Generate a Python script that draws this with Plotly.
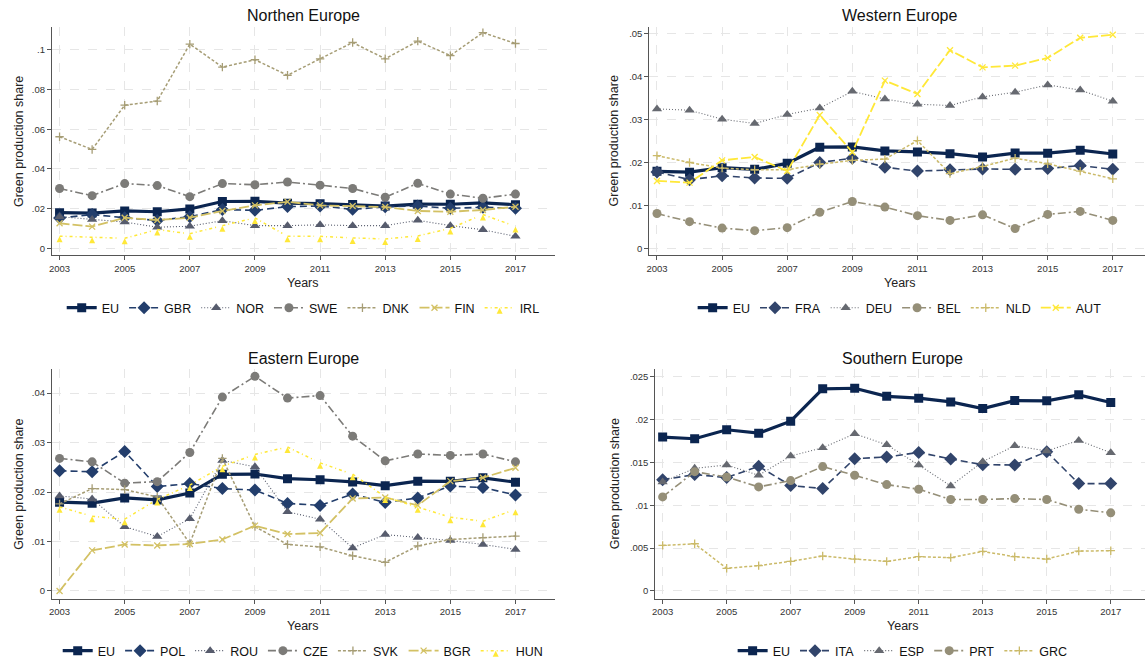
import plotly.graph_objects as go

years = list(range(2003, 2018))
x_ticks = [2003, 2005, 2007, 2009, 2011, 2013, 2015, 2017]

eu = [0.01795, 0.01775, 0.0188, 0.0184, 0.0198, 0.02357, 0.02364, 0.0227, 0.02248, 0.02205, 0.02128, 0.0222, 0.02217, 0.02287, 0.02198]

# Northern Europe
gbr = [0.0152, 0.0170, 0.0154, 0.0140, 0.0159, 0.0195, 0.0191, 0.0210, 0.0213, 0.0196, 0.0209, 0.0213, 0.0201, 0.0207, 0.0201]
nor = [0.0159, 0.0145, 0.0132, 0.0106, 0.0111, 0.0139, 0.0114, 0.0114, 0.0118, 0.0114, 0.0114, 0.0141, 0.0114, 0.0093, 0.0060]
swe = [0.0301, 0.0265, 0.0326, 0.0316, 0.0260, 0.0326, 0.0320, 0.0334, 0.0318, 0.0301, 0.0257, 0.0327, 0.0273, 0.0252, 0.0273]
dnk = [0.0562, 0.0498, 0.0721, 0.0742, 0.1029, 0.0913, 0.0950, 0.0872, 0.0955, 0.1037, 0.0955, 0.1044, 0.0971, 0.1087, 0.1032]
fin = [0.0126, 0.0109, 0.0154, 0.0142, 0.0154, 0.0188, 0.0216, 0.0234, 0.0216, 0.0213, 0.0208, 0.0188, 0.0184, 0.0193, 0.0209]
irl = [0.0061, 0.0056, 0.0050, 0.0094, 0.0073, 0.0114, 0.0153, 0.0060, 0.0060, 0.0052, 0.0047, 0.0062, 0.0100, 0.0170, 0.0110]

# Western Europe
fra = [0.0178, 0.0160, 0.0169, 0.0164, 0.0163, 0.0200, 0.0210, 0.0189, 0.0180, 0.0183, 0.0185, 0.0184, 0.0186, 0.0193, 0.0184]
deu = [0.0325, 0.0322, 0.0301, 0.0291, 0.0312, 0.0327, 0.0366, 0.0348, 0.0336, 0.0333, 0.0353, 0.0364, 0.0381, 0.0369, 0.0343]
bel = [0.0081, 0.0062, 0.0047, 0.0041, 0.0048, 0.0084, 0.0109, 0.0096, 0.0076, 0.0065, 0.0078, 0.0046, 0.0079, 0.0086, 0.0065]
nld = [0.0216, 0.0200, 0.0187, 0.0183, 0.0183, 0.0196, 0.0205, 0.0208, 0.0251, 0.0174, 0.0191, 0.0210, 0.0197, 0.0180, 0.0162]
aut = [0.0157, 0.0153, 0.0205, 0.0213, 0.0180, 0.0311, 0.0224, 0.0391, 0.0360, 0.0462, 0.0422, 0.0426, 0.0444, 0.0491, 0.0498]

# Eastern Europe
pol = [0.0243, 0.0241, 0.0282, 0.0211, 0.0217, 0.0207, 0.0204, 0.0177, 0.0173, 0.0196, 0.0179, 0.0188, 0.0212, 0.0209, 0.0194]
rou = [0.0192, 0.0186, 0.0130, 0.0110, 0.0146, 0.0264, 0.0251, 0.0160, 0.0145, 0.0087, 0.0114, 0.0108, 0.0102, 0.0094, 0.0084]
cze = [0.0268, 0.0261, 0.0218, 0.0221, 0.0280, 0.0392, 0.0434, 0.0390, 0.0395, 0.0313, 0.0263, 0.0277, 0.0274, 0.0277, 0.0261]
svk = [0.0176, 0.0207, 0.0205, 0.0190, 0.0096, 0.0268, 0.0130, 0.0094, 0.0089, 0.0071, 0.0058, 0.0091, 0.0104, 0.0108, 0.0111]
bgr = [0.0000, 0.0082, 0.0094, 0.0092, 0.0095, 0.0104, 0.0132, 0.0115, 0.0117, 0.0187, 0.0189, 0.0173, 0.0222, 0.0229, 0.0249]
hun = [0.0170, 0.0151, 0.0145, 0.0185, 0.0214, 0.0252, 0.0276, 0.0291, 0.0259, 0.0236, 0.0190, 0.0170, 0.0149, 0.0141, 0.0165]

# Southern Europe
ita = [0.01298, 0.01357, 0.01322, 0.01453, 0.01229, 0.01194, 0.01543, 0.01562, 0.01616, 0.01539, 0.01473, 0.01469, 0.01624, 0.01252, 0.01252]
esp = [0.01271, 0.0143, 0.01469, 0.01349, 0.01574, 0.0167, 0.01833, 0.01705, 0.01469, 0.01225, 0.01508, 0.01694, 0.01632, 0.01756, 0.01612]
prt = [0.01097, 0.01391, 0.01329, 0.01213, 0.01287, 0.0145, 0.01349, 0.0124, 0.01186, 0.01066, 0.01066, 0.01078, 0.01066, 0.00953, 0.00911]
grc = [0.00531, 0.0055, 0.00264, 0.00295, 0.00345, 0.00407, 0.00372, 0.00345, 0.00399, 0.00388, 0.00461, 0.00399, 0.00372, 0.00465, 0.00469]

north_ticks = [0, 0.02, 0.04, 0.06, 0.08, 0.1]
north_labels = ["0", ".02", ".04", ".06", ".08", ".1"]
west_ticks = [0, 0.01, 0.02, 0.03, 0.04, 0.05]
west_labels = ["0", ".01", ".02", ".03", ".04", ".05"]
east_ticks = [0, 0.01, 0.02, 0.03, 0.04]
east_labels = ["0", ".01", ".02", ".03", ".04"]
south_ticks = [0, 0.005, 0.01, 0.015, 0.02, 0.025]
south_labels = ["0", ".005", ".01", ".015", ".02", ".025"]

C7 = ['#0b2550', '#233E6C', '#575C6D', '#7C7B78', '#A69D75', '#D3C164', '#FFE838']
C6 = ['#0b2550', '#31446B', '#666970', '#958F78', '#CBBA69', '#FFE838']

STYLES = [
    dict(dash='solid', width=3.2, symbol='square', size=9),
    dict(dash='7px,4px', width=1.6, symbol='diamond', size=10),
    dict(dash='1px,2px', width=1.1, symbol='triangle-up', size=9),
    dict(dash='8px,3px,2px,3px', width=1.6, symbol='circle', size=9),
    dict(dash='3px,2px', width=1.5, symbol='cross-thin', size=6),
    dict(dash='10px,3px', width=1.8, symbol='x-thin', size=6),
    dict(dash='3px,3px,1px,3px', width=1.5, symbol='arrow-up', size=6),
]

W, H = 1145, 666
fig = go.Figure()

panels = [
    dict(title="Northen Europe", names=["EU", "GBR", "NOR", "SWE", "DNK", "FIN", "IRL"],
         data=[eu, gbr, nor, swe, dnk, fin, irl], colors=C7,
         xpx=(49, 553), ypx=(27, 256), xr=(2002.764, 2018.2), yr=(-0.00352, 0.11156),
         ticks=north_ticks, labels=north_labels, cx=301, title_y=16, xt_y=284, yt_x=16, leg_y=309),
    dict(title="Western Europe", names=["EU", "FRA", "DEU", "BEL", "NLD", "AUT"],
         data=[eu, fra, deu, bel, nld, aut], colors=C6,
         xpx=(648, 1145), ypx=(27, 256), xr=(2002.764, 2017.99), yr=(-0.00163, 0.05163),
         ticks=west_ticks, labels=west_labels, cx=899, title_y=16, xt_y=284, yt_x=613, leg_y=309),
    dict(title="Eastern Europe", names=["EU", "POL", "ROU", "CZE", "SVK", "BGR", "HUN"],
         data=[eu, pol, rou, cze, svk, bgr, hun], colors=C7,
         xpx=(49, 553), ypx=(370, 600.7), xr=(2002.764, 2018.2), yr=(-0.00161, 0.0449),
         ticks=east_ticks, labels=east_labels, cx=301, title_y=360, xt_y=628, yt_x=16, leg_y=653),
    dict(title="Southern Europe", names=["EU", "ITA", "ESP", "PRT", "GRC"],
         data=[eu, ita, esp, prt, grc], colors=C6,
         xpx=(654, 1145), ypx=(370, 600.7), xr=(2002.77, 2018.07), yr=(-0.00093, 0.0259),
         ticks=south_ticks, labels=south_labels, cx=902, title_y=360, xt_y=628, yt_x=613, leg_y=653),
]

FONT = "Liberation Sans, Arial, sans-serif"
annotations = []
for i, p in enumerate(panels):
    n = i + 1
    xa = 'x' if n == 1 else f'x{n}'
    ya = 'y' if n == 1 else f'y{n}'
    leg = 'legend' if n == 1 else f'legend{n}'
    for j, (name, vals) in enumerate(zip(p['names'], p['data'])):
        st = STYLES[j]
        col = p['colors'][j]
        fig.add_trace(go.Scatter(
            x=years, y=vals, name=name, mode='lines+markers',
            xaxis=xa, yaxis=ya, legend=leg,
            line=dict(color=col, width=st['width'], dash=st['dash']),
            marker=dict(symbol=st['symbol'], size=st['size'], color=col,
                        line=dict(color=col, width=1.3 if 'thin' in st['symbol'] else 0)),
        ))
    xd = [p['xpx'][0] / W, p['xpx'][1] / W]
    yd = [1 - p['ypx'][1] / H, 1 - p['ypx'][0] / H]
    axis_common = dict(showline=True, linecolor='#555555', linewidth=1, ticks='outside',
                       ticklen=4, tickcolor='#555555', tickfont=dict(size=9.5, color='#333333', family=FONT),
                       showgrid=True, gridcolor='#e6e6e6', griddash='dash', gridwidth=1, zeroline=False)
    fig.update_layout(**{
        ('xaxis' if n == 1 else f'xaxis{n}'): dict(domain=xd, range=list(p['xr']), tickmode='array',
                                                  tickvals=x_ticks, anchor=ya, **axis_common),
        ('yaxis' if n == 1 else f'yaxis{n}'): dict(domain=yd, range=list(p['yr']), tickmode='array',
                                                  tickvals=p['ticks'], ticktext=p['labels'], anchor=xa, **axis_common),
        leg: dict(orientation='h', x=p['cx'] / W, xanchor='center', y=1 - p['leg_y'] / H, yanchor='middle',
                  font=dict(size=12.5, color='#111111', family=FONT), itemwidth=30,
                  bgcolor='rgba(0,0,0,0)', tracegroupgap=0),
    })
    annotations.append(dict(text=p['title'], x=p['cx'] / W, y=1 - p['title_y'] / H, xref='paper', yref='paper',
                            xanchor='center', yanchor='middle', showarrow=False,
                            font=dict(size=16, color='#111111', family=FONT)))
    annotations.append(dict(text="Years", x=p['cx'] / W, y=1 - p['xt_y'] / H, xref='paper', yref='paper',
                            xanchor='center', yanchor='middle', showarrow=False,
                            font=dict(size=12.5, color='#222222', family=FONT)))
    annotations.append(dict(text="Green production share", x=p['yt_x'] / W,
                            y=1 - (p['ypx'][0] + p['ypx'][1]) / 2 / H, xref='paper', yref='paper',
                            xanchor='center', yanchor='middle', showarrow=False, textangle=-90,
                            font=dict(size=12.5, color='#222222', family=FONT)))

fig.update_layout(width=W, height=H, autosize=False, margin=dict(l=0, r=0, t=0, b=0),
                  paper_bgcolor='white', plot_bgcolor='white', annotations=annotations,
                  font=dict(family=FONT), hovermode=False)
fig.write_html("out.html", config={'displayModeBar': False, 'staticPlot': True},
               post_script="document.body.style.margin='0';document.body.style.overflow='hidden';")
